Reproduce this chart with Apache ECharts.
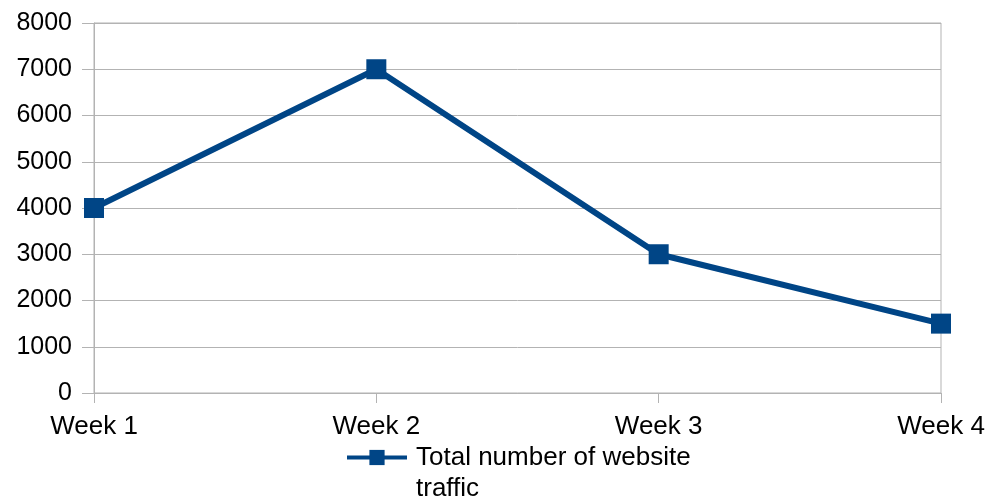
<!DOCTYPE html>
<html>
<head>
<meta charset="utf-8">
<script src="https://cdn.jsdelivr.net/npm/echarts@6/dist/echarts.min.js"></script>
<style>html,body{margin:0;padding:0;background:#fff}#c{width:989px;height:501px}</style>
</head>
<body>
<div id="c"></div>
<script>
const categories = ["Week 1", "Week 2", "Week 3", "Week 4"];
const trafficValues = [4000, 7000, 3000, 1500];
const seriesName = "Total number of website traffic";
const yMin = 0, yMax = 8000, yInterval = 1000;

const chart = echarts.init(document.getElementById('c'), null, {renderer: 'canvas'});
const font = 'Liberation Sans';
chart.setOption({
  animation: false,
  backgroundColor: '#ffffff',
  grid: {left: 94, right: 48, top: 23, bottom: 108, show: true, borderColor: '#b3b3b3', borderWidth: 1, containLabel: false},
  xAxis: {
    type: 'category', data: categories, boundaryGap: false,
    axisLine: {lineStyle: {color: '#b3b3b3', width: 1}},
    axisTick: {show: true, length: 10, lineStyle: {color: '#b3b3b3'}},
    axisLabel: {fontFamily: font, fontSize: 26, color: '#000', margin: 21, interval: 0},
    splitLine: {show: false}
  },
  yAxis: {
    type: 'value', min: yMin, max: yMax, interval: yInterval,
    axisLine: {show: true, lineStyle: {color: '#b3b3b3', width: 1}},
    axisTick: {show: true, length: 12, lineStyle: {color: '#b3b3b3'}},
    axisLabel: {fontFamily: font, fontSize: 25, color: '#000', margin: 22, formatter: function(v){ return String(v); }},
    splitLine: {show: true, lineStyle: {color: '#b3b3b3', width: 1}}
  },
  legend: {
    left: 345, top: 411, padding: 0,
    itemWidth: 60, itemHeight: 19, itemGap: 0,
    lineStyle: {width: 4},
    formatter: function(n){ return ' \nTotal number of website\ntraffic'; },
    textStyle: {fontFamily: font, fontSize: 26, color: '#000', lineHeight: 31, padding: [0, 0, 0, 4]},
    data: [{name: seriesName}]
  },
  series: [{
    name: seriesName, type: 'line', data: trafficValues,
    color: '#004586',
    lineStyle: {color: '#004586', width: 6},
    itemStyle: {color: '#004586'},
    symbol: 'rect', symbolSize: 20, showSymbol: true
  }]
});
</script>
</body>
</html>
